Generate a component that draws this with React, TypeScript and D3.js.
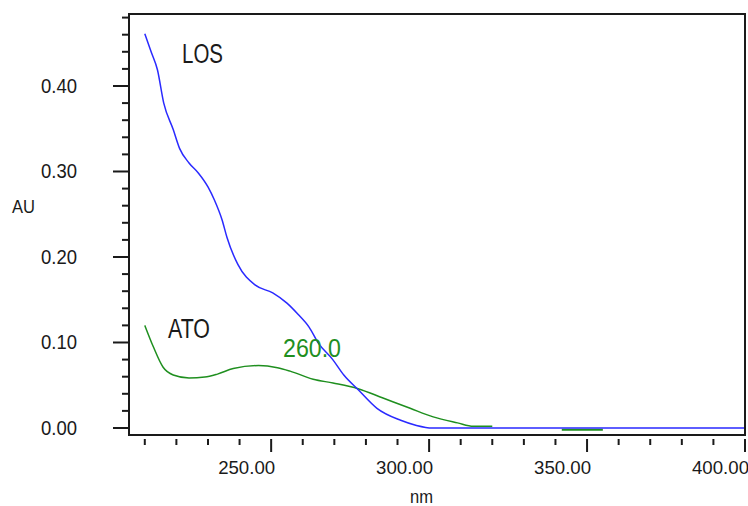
import React from 'react';
import * as d3 from 'd3';

// wavelength (nm) and absorbance (AU)
const losNm = [210, 212, 214, 216, 219, 221, 224, 227, 230, 232, 234.5, 236, 239.5, 245, 250.5, 255, 258.5, 262, 265, 269.5, 273, 277.5, 283.5, 291, 296, 301, 350, 400];
const losAu = [0.461, 0.44, 0.419, 0.38, 0.349, 0.327, 0.31, 0.298, 0.282, 0.267, 0.243, 0.223, 0.191, 0.167, 0.158, 0.146, 0.133, 0.118, 0.099, 0.08, 0.062, 0.045, 0.023, 0.009, 0.003, 0.0, 0.0, 0.0];

const atoNm = [210, 212.7, 215.8, 219, 224, 229, 233, 238, 246, 252, 256, 263.3, 269.6, 277.5, 285.4, 294, 301.3, 309, 314, 320];
const atoAu = [0.12, 0.095, 0.071, 0.062, 0.0585, 0.0595, 0.063, 0.0695, 0.073, 0.0705, 0.0665, 0.057, 0.0526, 0.046, 0.035, 0.023, 0.013, 0.006, 0.002, 0.002];

const tailNm = [342, 355];
const tailAu = [-0.002, -0.002];

const yTicks = [0, 0.1, 0.2, 0.3, 0.4];
const yTickLabels = ['0.00', '0.10', '0.20', '0.30', '0.40'];
const xTicks = [250, 300, 350, 400];
const xTickLabels = ['250.00', '300.00', '350.00', '400.00'];

const W = 748;
const H = 506;
const left = 129;
const right = 745;
const top = 14;
const bottom = 435;

const FONT = '"Liberation Sans", Arial, sans-serif';
const INK = '#1a1a1a';
const BLUE = '#2a2aff';
const GREEN = '#1f8f1f';

export default function App() {
  const x = d3.scaleLinear().domain([205, 400]).range([left, right]);
  const y = d3.scaleLinear().domain([-0.0082, 0.4842]).range([bottom, top]);

  const line = d3
    .line<[number, number]>()
    .x((d) => x(d[0]))
    .y((d) => y(d[1]))
    .curve(d3.curveMonotoneX);

  const los = losNm.map((n, i) => [n, losAu[i]] as [number, number]);
  const ato = atoNm.map((n, i) => [n, atoAu[i]] as [number, number]);
  const tail = tailNm.map((n, i) => [n, tailAu[i]] as [number, number]);

  const yMinor = d3.range(0.02, 0.481, 0.02).filter((v) => Math.abs(v * 10 - Math.round(v * 10)) > 1e-6);
  const xMinor = d3.range(210, 401, 10).filter((v) => v % 50 !== 0);

  return (
    <svg width={W} height={H} style={{ position: 'absolute', left: 0, top: 0, background: '#fff' }}>
      <rect x={0} y={0} width={W} height={H} fill="#fff" />

      {/* curves */}
      <path d={line(ato) || ''} fill="none" stroke={GREEN} strokeWidth={1.5} />
      <path d={line(tail) || ''} fill="none" stroke={GREEN} strokeWidth={2} />
      <path d={line(los) || ''} fill="none" stroke={BLUE} strokeWidth={1.5} />

      {/* frame */}
      <line x1={left} x2={right + 1} y1={top} y2={top} stroke={INK} strokeWidth={2} />
      <line x1={right} x2={right} y1={top} y2={bottom} stroke={INK} strokeWidth={2} />
      <line x1={left} x2={left} y1={top - 1} y2={bottom + 1} stroke={INK} strokeWidth={2} />
      <line x1={left} x2={right + 1} y1={bottom} y2={bottom} stroke={INK} strokeWidth={2} />

      {/* y ticks */}
      {yTicks.map((v, i) => (
        <g key={'yt' + i}>
          <line x1={113} x2={left} y1={y(v)} y2={y(v)} stroke={INK} strokeWidth={2} />
          <text x={77} y={y(v) + 7} textAnchor="end" fontFamily={FONT} fontSize={20} fill={INK} textLength={36} lengthAdjust="spacingAndGlyphs">
            {yTickLabels[i]}
          </text>
        </g>
      ))}
      {yMinor.map((v, i) => (
        <line key={'ym' + i} x1={122} x2={left} y1={y(v)} y2={y(v)} stroke={INK} strokeWidth={2} />
      ))}

      {/* x ticks */}
      {xTicks.map((v, i) => (
        <g key={'xt' + i}>
          <line x1={x(v)} x2={x(v)} y1={439} y2={452} stroke={INK} strokeWidth={2} />
          <text x={x(v) + 4} y={474} textAnchor="end" fontFamily={FONT} fontSize={19} fill={INK} textLength={57} lengthAdjust="spacingAndGlyphs">
            {xTickLabels[i]}
          </text>
        </g>
      ))}
      {xMinor.map((v, i) => (
        <line key={'xm' + i} x1={x(v)} x2={x(v)} y1={439} y2={445} stroke={INK} strokeWidth={2} />
      ))}

      {/* axis titles */}
      <text x={12} y={213} fontFamily={FONT} fontSize={19} fill={INK} textLength={23} lengthAdjust="spacingAndGlyphs">AU</text>
      <text x={410} y={503} fontFamily={FONT} fontSize={19} fill={INK} textLength={23} lengthAdjust="spacingAndGlyphs">nm</text>

      {/* annotations */}
      <text x={182} y={63} fontFamily={FONT} fontSize={27} fill={INK} textLength={41} lengthAdjust="spacingAndGlyphs">LOS</text>
      <text x={168} y={338} fontFamily={FONT} fontSize={27} fill={INK} textLength={42} lengthAdjust="spacingAndGlyphs">ATO</text>
      <text x={283} y={357} fontFamily={FONT} fontSize={26} fill={GREEN} textLength={58} lengthAdjust="spacingAndGlyphs">260.0</text>
    </svg>
  );
}
